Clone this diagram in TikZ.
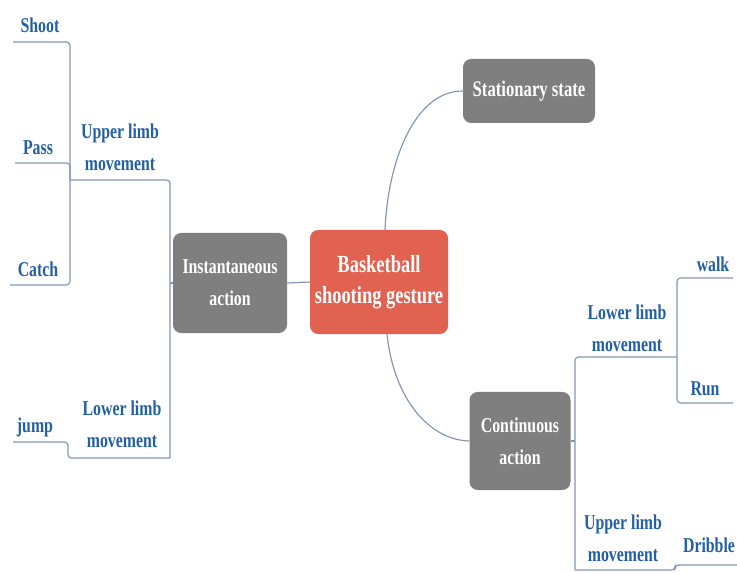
\documentclass[tikz,border=0pt]{standalone}
\usepackage{fontspec}
\setmainfont[FakeStretch=0.75]{Liberation Serif}
\definecolor{boxgray}{RGB}{127,127,127}
\definecolor{boxred}{RGB}{226,98,82}
\definecolor{lblblue}{RGB}{35,95,165}
\definecolor{linegray}{RGB}{130,150,180}
\begin{document}
\begin{tikzpicture}[x=0.03cm, y=-0.03cm,
  box/.style={rounded corners=7pt, fill=boxgray, text=white, align=center, inner sep=0pt, font=\fontsize{18}{27}\selectfont\bfseries},
  lbl/.style={text=lblblue, align=center, inner sep=0pt, font=\fontsize{18}{27}\selectfont\bfseries},
  branch/.style={draw=linegray, line width=1pt, rounded corners=3pt}]
\useasboundingbox (0,0) rectangle (737,573);
\node[box, fill=boxred, minimum width=4.14cm, minimum height=3.12cm, font=\fontsize{21}{26}\selectfont\bfseries] (gesture) at (379,282) {Basketball\\shooting gesture};
\node[box, minimum width=3.42cm, minimum height=3.0cm] (inst) at (230,283) {Instantaneous\\action};
\node[box, minimum width=3.96cm, minimum height=1.92cm, font=\fontsize{19}{26}\selectfont\bfseries] (stat) at (529,91) {Stationary state};
\node[box, minimum width=3.03cm, minimum height=2.94cm] (cont) at (520,441) {Continuous\\action};
\node[lbl] (shoot) at (40,25) {Shoot};
\node[lbl] (pass) at (38,148) {Pass};
\node[lbl] (catch) at (38,269) {Catch};
\node[lbl] (ulimbL) at (120,147) {Upper limb\\movement};
\node[lbl] (jump) at (35,427) {jump};
\node[lbl] (llimbL) at (122,424) {Lower limb\\movement};
\node[lbl] (llimbR) at (627,328) {Lower limb\\movement};
\node[lbl] (walk) at (713,264) {walk};
\node[lbl] (run) at (705,389) {Run};
\node[lbl] (ulimbR) at (623,538) {Upper limb\\movement};
\node[lbl] (dribble) at (709,545) {Dribble};
\coordinate (lspU) at (170,180);
\coordinate (lspD) at (170,458);
\coordinate (ulL) at (70,180);
\coordinate (shootEnd) at (13,42);
\coordinate (passEnd) at (15,163);
\coordinate (catchEnd) at (10,285);
\coordinate (jumpEnd) at (13,442);
\coordinate (rspU) at (575,357);
\coordinate (rspD) at (575,570);
\coordinate (llR) at (677,357);
\coordinate (walkEnd) at (733,278);
\coordinate (runEnd) at (733,403);
\coordinate (dribEnd) at (745,565);
% main branches
\draw[branch] (gesture.west) -- (inst.east);
\draw[branch] ([xshift=0.18cm]gesture.north) .. controls (388,160) and (415,91) .. (stat.west);
\draw[branch] ([xshift=0.24cm]gesture.south) .. controls (394,400) and (430,440) .. (cont.west);
% left side
\draw[branch] (inst.west) -- (inst.west -| lspU);
\draw[branch] (lspD) -- (lspU) -- (ulL);
\draw[branch] (ulL) |- (shootEnd);
\draw[branch] (ulL) |- (passEnd);
\draw[branch] (ulL) |- (catchEnd);
\draw[branch] (lspD) -- (68,458) |- (jumpEnd);
% right side
\draw[branch] (cont.east) -- (cont.east -| rspU);
\draw[branch] (rspD) -- (rspU) -- (llR);
\draw[branch] (llR) |- (walkEnd);
\draw[branch] (llR) |- (runEnd);
\draw[branch] (rspD) -- (675,570) |- (dribEnd);
\end{tikzpicture}
\end{document}
